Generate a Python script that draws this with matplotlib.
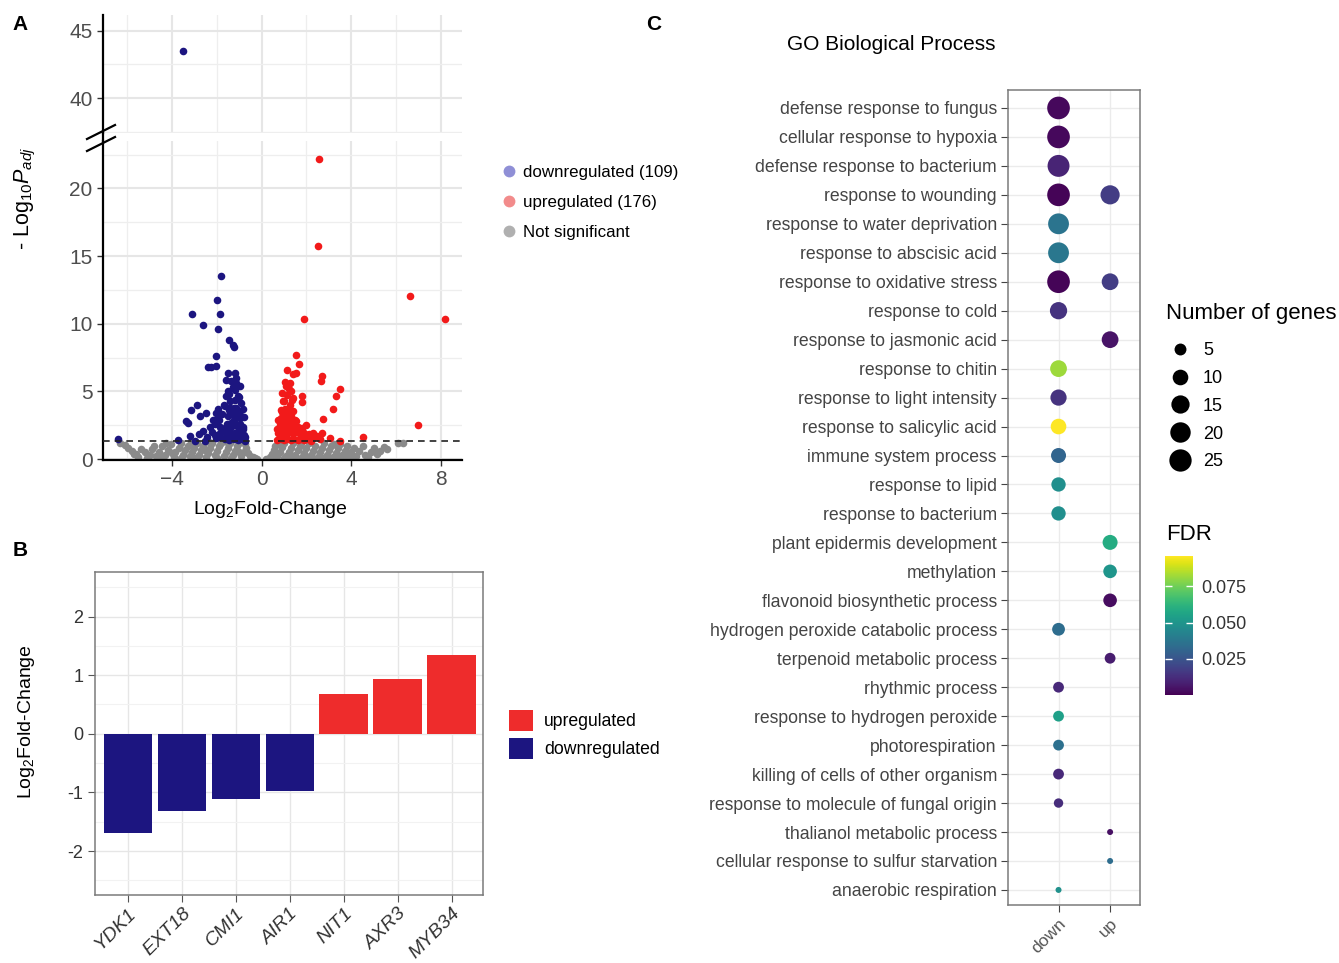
import numpy as np
import matplotlib
matplotlib.use("Agg")
import matplotlib.pyplot as plt
from matplotlib.lines import Line2D
from matplotlib.patches import Patch
from matplotlib.colors import Normalize

plt.rcParams['font.family'] = ['Liberation Sans', 'DejaVu Sans']
plt.rcParams['mathtext.fontset'] = 'custom'
plt.rcParams['mathtext.rm'] = 'Liberation Sans'
plt.rcParams['mathtext.it'] = 'Liberation Sans:italic'

# ---------------- Panel A data (volcano) ----------------
down_x = [-3.52, -1.80, -2.00, -3.09, -1.87, -2.62, -1.93, -1.46, -1.28, -1.24, -2.05, -2.39, -2.25, -2.02,
          -1.50, -1.20, -1.57, -1.35, -1.13, -0.98, -1.50, -1.20, -1.05, -0.91, -1.61, -1.65, -1.43, -1.13,
          -0.83, -2.88, -3.14, -2.47, -2.73, -2.03, -1.95, -2.17, -3.39, -3.29, -2.32, -1.88, -1.58, -1.35,
          -1.05, -0.83, -3.21, -2.80, -2.10, -1.85, -1.60, -1.35, -1.10, -0.90, -0.75, -3.73, -2.99, -2.54,
          -6.41, -1.65, -1.45, -1.25, -1.05, -0.85, -0.75, -1.60, -1.40, -1.20, -1.00, -0.80, -1.55, -1.35,
          -1.15, -0.95, -0.85, -1.50, -1.30, -1.10, -0.90, -1.45, -1.25, -1.05, -1.70, -1.85, -2.05, -2.20,
          -2.10, -1.90, -1.75, -1.40, -1.20, -1.00, -1.30, -1.15, -1.45, -2.45, -2.60, -1.95, -1.70, -0.95,
          -1.25, -0.80, -1.00, -1.40]
down_y = [43.5, 13.5, 11.75, 10.7, 10.7, 9.9, 9.6, 8.77, 8.4, 8.3, 7.6, 6.8, 6.8, 6.85,
          6.37, 6.37, 5.87, 5.75, 5.63, 5.4, 5.0, 5.13, 4.63, 4.14, 4.63, 3.89, 3.77, 3.77,
          3.7, 4.0, 3.64, 3.4, 3.15, 3.4, 3.0, 2.9, 2.78, 2.65, 2.4, 2.4, 2.4, 2.4,
          2.4, 2.4, 1.73, 1.86, 1.78, 1.9, 1.95, 1.85, 1.8, 1.75, 1.6, 1.41, 1.35, 1.35,
          1.5, 1.45, 1.4, 1.45, 1.4, 1.45, 1.35, 1.9, 2.0, 1.9, 2.0, 1.8, 2.6, 2.7,
          2.5, 2.6, 2.2, 3.2, 3.3, 3.1, 3.2, 3.6, 3.8, 3.5, 2.2, 1.6, 1.55, 2.0,
          2.6, 2.9, 3.3, 4.3, 4.4, 4.6, 5.3, 6.0, 4.8, 1.6, 2.1, 3.7, 4.0, 3.0,
          2.9, 3.1, 1.5, 1.55]

up_x = [2.54, 2.50, 1.87, 6.60, 8.16, 1.55, 1.65, 1.13, 1.40, 1.55, 2.69, 2.63, 1.03, 1.25, 1.10, 1.32,
        3.48, 3.33, 1.81, 1.81, 0.95, 1.25, 1.40, 3.18, 0.88, 1.17, 1.40, 2.74, 2.68, 2.21, 2.29, 3.06,
        3.51, 4.52, 6.99, 0.70, 0.85, 1.00, 1.15, 1.30, 1.45, 1.60, 1.75, 1.90, 2.05, 0.75, 0.90, 1.05,
        1.20, 1.35, 1.50, 1.70, 1.90, 2.10, 2.30, 2.45, 0.80, 0.95, 1.10, 1.25, 1.40, 1.60, 0.85, 1.00,
        1.15, 1.30, 1.50, 0.90, 1.05, 1.20, 1.00, 1.15, 0.90, 1.20, 1.35, 2.20, 2.60, 1.80, 2.00, 0.70,
        0.80, 1.10, 1.30, 1.00, 0.75, 1.25, 1.55, 1.95]
up_y = [22.2, 15.76, 10.33, 12.04, 10.33, 7.68, 7.0, 6.6, 6.25, 6.37, 6.12, 5.75, 5.67, 5.62, 5.38, 5.0,
        5.2, 4.63, 4.63, 4.19, 4.26, 4.0, 4.5, 3.69, 3.64, 3.4, 3.52, 2.95, 1.96, 1.78, 1.54, 1.54,
        1.36, 1.66, 2.53, 1.4, 1.5, 1.4, 1.45, 1.4, 1.5, 1.4, 1.45, 1.4, 1.5, 1.9, 2.0, 1.85,
        2.05, 1.9, 2.0, 1.85, 1.95, 1.85, 1.9, 1.7, 2.5, 2.6, 2.45, 2.7, 2.5, 2.4, 3.0, 3.1,
        2.95, 3.2, 2.9, 3.5, 3.7, 3.4, 4.3, 4.7, 4.9, 5.2, 4.4, 1.3, 1.45, 2.3, 2.5, 2.2,
        1.6, 1.7, 2.2, 2.25, 2.9, 3.6, 2.8, 1.6]

ns_x = [-6.30, -6.10, -5.95, -5.80, -5.70, -5.50, -5.20, -5.00, -4.90, -4.70, -4.60, -4.45, -4.30, -4.20,
        -4.05, -3.90, -3.85, -3.70, -3.60, -3.50, -3.40, -3.30, -3.20, -3.10, -3.00, -2.90, -2.80, -2.70,
        -2.60, -2.50, -2.40, -2.30, -2.20, -2.10, -2.00, -1.90, -1.80, -1.70, -1.60, -1.50, -1.40, -1.30,
        -1.20, -1.10, -1.00, -0.90, -0.80, -0.70, -0.60, -0.50, -0.40, -0.30, -0.20, -5.40, -4.80, -4.00,
        -3.60, -3.00, -2.55, -2.00, -1.35, -1.00, -0.75, -1.55, -2.35, -3.15, -4.50, -5.10, -5.60, -4.25,
        0.20, 0.35, 0.45, 0.55, 0.60, 0.70, 0.80, 0.90, 1.00, 1.10, 1.20, 1.30, 1.40, 1.50,
        1.60, 1.70, 1.80, 1.90, 2.00, 2.10, 2.20, 2.30, 2.40, 2.50, 2.60, 2.70, 2.80, 2.90,
        3.00, 3.10, 3.20, 3.30, 3.40, 3.50, 3.60, 3.70, 3.80, 3.90, 4.00, 4.10, 4.20, 4.35,
        4.50, 4.60, 4.75, 4.90, 5.00, 5.15, 5.30, 5.45, 5.60, 6.10, 6.30, 0.50, 1.00, 1.50,
        2.00, 2.50, 3.00, 3.50, 4.00, 0.75, 1.25, 1.75, 2.25, 2.75, 3.25, 3.75]
ns_y = [1.20, 1.05, 0.85, 0.60, 0.35, 0.15, 0.50, 0.30, 0.75, 0.20, 0.55, 0.95, 0.30, 0.70,
        1.10, 0.15, 0.50, 0.85, 1.20, 0.30, 0.65, 1.00, 0.20, 0.50, 0.85, 1.15, 0.30, 0.65,
        1.00, 0.15, 0.45, 0.80, 1.20, 0.30, 0.60, 0.95, 1.20, 0.20, 0.50, 0.85, 1.15, 0.30,
        0.60, 0.95, 1.20, 0.20, 0.50, 0.80, 0.45, 0.25, 0.15, 0.05, 0.02, 0.75, 1.00, 0.45,
        0.05, 0.10, 0.70, 0.05, 0.05, 0.55, 1.10, 1.25, 1.25, 1.25, 0.05, 0.05, 0.40, 1.20,
        0.03, 0.15, 0.40, 0.70, 1.00, 0.25, 0.55, 0.90, 1.20, 0.20, 0.50, 0.85, 1.15, 0.30,
        0.65, 1.00, 0.15, 0.45, 0.80, 1.20, 0.30, 0.60, 0.95, 0.15, 0.50, 0.85, 1.15, 0.30,
        0.65, 1.00, 0.15, 0.45, 0.80, 1.10, 0.30, 0.60, 0.95, 0.20, 0.50, 0.85, 0.25, 0.60,
        0.95, 0.30, 0.15, 0.50, 0.80, 0.35, 0.60, 0.90, 0.75, 1.20, 1.15, 0.05, 0.05, 0.05,
        0.05, 0.05, 0.05, 0.05, 0.05, 1.10, 0.10, 1.15, 0.10, 0.05, 1.10, 0.10]

padj_threshold = 1.3
legend_a_labels = ["downregulated (109)", "upregulated (176)", "Not significant"]

# ---------------- Panel B data ----------------
genes_b = ["YDK1", "EXT18", "CMI1", "AIR1", "NIT1", "AXR3", "MYB34"]
lfc_b = [-1.70, -1.32, -1.11, -0.98, 0.68, 0.94, 1.34]

# ---------------- Panel C data ----------------
terms = ["defense response to fungus", "cellular response to hypoxia", "defense response to bacterium",
         "response to wounding", "response to water deprivation", "response to abscisic acid",
         "response to oxidative stress", "response to cold", "response to jasmonic acid",
         "response to chitin", "response to light intensity", "response to salicylic acid",
         "immune system process", "response to lipid", "response to bacterium",
         "plant epidermis development", "methylation", "flavonoid biosynthetic process",
         "hydrogen peroxide catabolic process", "terpenoid metabolic process", "rhythmic process",
         "response to hydrogen peroxide", "photorespiration", "killing of cells of other organism",
         "response to molecule of fungal origin", "thalianol metabolic process",
         "cellular response to sulfur starvation", "anaerobic respiration"]
nan = np.nan
down_genes = [26, 26, 24, 26, 21, 21, 26, 13, nan, 12, 11, 10, 9, 8, 8, nan, nan, nan, 6, nan,
              4, 4, 4, 4, 3, nan, nan, 2]
down_fdr = [0.002, 0.002, 0.0095, 0.001, 0.037, 0.038, 0.001, 0.014, nan, 0.082, 0.014, 0.096,
            0.031, 0.0475, 0.0475, nan, nan, nan, 0.034, nan, 0.011, 0.054, 0.035, 0.011, 0.012,
            nan, nan, 0.048]
up_genes = [nan, nan, nan, 17, nan, nan, 12, nan, 12, nan, nan, nan, nan, nan, nan, 9, 7, 7, nan, 4,
            nan, nan, nan, nan, nan, 2, 2, nan]
up_fdr = [nan, nan, nan, 0.017, nan, nan, 0.017, nan, 0.005, nan, nan, nan, nan, nan, nan, 0.059,
          0.05, 0.003, nan, 0.0075, nan, nan, nan, nan, nan, 0.004, 0.034, nan]
directions = ["down", "up"]
size_legend_vals = [5, 10, 15, 20, 25]
fdr_ticks = [0.025, 0.050, 0.075]

# ---------------- figure ----------------
W, H = 1339, 963
fig = plt.figure(figsize=(W / 100, H / 100), dpi=100)


def rect(l, t, r, b):
    return [l / W, 1 - b / H, (r - l) / W, (b - t) / H]


NAVY = '#1c1580'
RED = '#f21a1a'
GREY = '#8a8a8a'
TICKC = '#4d4d4d'

# ---- Panel A ----
axT = fig.add_axes(rect(103, 15, 462, 133))
axB = fig.add_axes(rect(103, 141, 462, 460))
dx = np.array(down_x); dy = np.array(down_y)
ux = np.array(up_x); uy = np.array(up_y)
for ax in (axT, axB):
    ax.set_xlim(-7.08, 8.94)
    ax.set_xticks([-4, 0, 4, 8])
    ax.set_xticks([-6, -2, 2, 6], minor=True)
    ax.grid(True, which='major', color='#e6e6e6', lw=1.5)
    ax.grid(True, which='minor', color='#eeeeee', lw=0.9)
    ax.set_axisbelow(True)
    for s in ('top', 'right'):
        ax.spines[s].set_visible(False)
    ax.spines['left'].set_linewidth(1.6)
    ax.tick_params(axis='both', which='major', direction='out', length=4, width=1.0,
                   labelsize=15, labelcolor=TICKC, color='#333333')
    ax.tick_params(which='minor', length=0)
    ax.scatter(ns_x, ns_y, s=30, color=GREY, lw=0, zorder=2)
    ax.scatter(ux[uy < 30], uy[uy < 30], s=30, color=RED, lw=0, zorder=3)
    ax.scatter(dx[dy < 30], dy[dy < 30], s=30, color=NAVY, lw=0, zorder=3)
axT.scatter(dx[dy > 30], dy[dy > 30], s=30, color=NAVY, lw=0, zorder=3)
axT.set_ylim(37.39, 46.19)
axT.set_yticks([40, 45])
axT.set_yticks([37.5, 42.5], minor=True)
axT.spines['bottom'].set_visible(False)
axT.tick_params(axis='x', which='both', bottom=False, labelbottom=False)
axB.set_ylim(-0.07, 23.5)
axB.set_yticks([0, 5, 10, 15, 20])
axB.set_yticks([2.5, 7.5, 12.5, 17.5, 22.5], minor=True)
axB.spines['bottom'].set_linewidth(1.6)
axB.axhline(padj_threshold, color='#222222', lw=1.2, ls=(0, (4, 3)), zorder=4)

# break marks
for (x0, y0, x1, y1) in [(87, 139, 115, 125), (87, 151, 115, 137)]:
    fig.add_artist(Line2D([x0 / W, x1 / W], [1 - y0 / H, 1 - y1 / H], color='black', lw=1.6))
fig.add_artist(Line2D([103 / W, 103 / W], [1 - 141 / H, 1 - 133 / H], color='black', lw=1.6))

fig.text(25 / W, 1 - 198 / H, r"- Log$_{10}$$\it{P}_{\it{adj}}$", rotation=90, ha='center', va='center',
         fontsize=15.5)
fig.text(270 / W, 1 - 509 / H, r"Log$_{2}$Fold-Change", ha='center', va='center', fontsize=14)

leg_a = [Line2D([], [], marker='o', ls='', markersize=8.5, markerfacecolor=c, markeredgecolor='none')
         for c in ('#8f8fd6', '#f28b8b', '#b0b0b0')]
fig.legend(leg_a, legend_a_labels, loc='upper left', bbox_to_anchor=(501 / W, 1 - 165 / H),
           frameon=False, fontsize=12.2, handlelength=1.0, handletextpad=0.3, labelspacing=0.89,
           borderpad=0, borderaxespad=0)

# ---- Panel B ----
axb = fig.add_axes(rect(95, 572, 483, 895))
xb = np.arange(1, len(genes_b) + 1)
colors_b = ['#ee2c2c' if v > 0 else '#1c1580' for v in lfc_b]
axb.bar(xb, lfc_b, width=0.9, color=colors_b, zorder=3)
axb.set_xlim(0.39, 7.58)
axb.set_ylim(-2.75, 2.76)
axb.set_yticks([-2, -1, 0, 1, 2])
axb.set_yticklabels(['-2', '-1', '0', '1', '2'])
axb.set_yticks([-2.5, -1.5, -0.5, 0.5, 1.5, 2.5], minor=True)
axb.set_xticks(xb)
axb.grid(True, which='major', color='#e6e6e6', lw=1.0)
axb.grid(True, which='minor', axis='y', color='#f2f2f2', lw=0.8)
axb.set_axisbelow(True)
for s in axb.spines.values():
    s.set_color('#7a7a7a')
    s.set_linewidth(1.1)
axb.tick_params(which='major', direction='out', length=5, color='#555555')
axb.tick_params(axis='y', which='major', labelsize=13, labelcolor='#333333')
axb.tick_params(axis='x', which='major', pad=2)
axb.tick_params(which='minor', length=0)
axb.set_xticklabels(genes_b, rotation=45, ha='right', rotation_mode='anchor', fontstyle='italic',
                    fontsize=14, color='#333333')
fig.text(27 / W, 1 - 722 / H, r"Log$_{2}$Fold-Change", rotation=90, ha='center', va='center', fontsize=14)
leg_b = [Patch(facecolor='#ee2c2c', edgecolor='none'), Patch(facecolor='#1c1580', edgecolor='none')]
fig.legend(leg_b, ['upregulated', 'downregulated'], loc='upper left', bbox_to_anchor=(509 / W, 1 - 710 / H),
           frameon=False, fontsize=12.7, handlelength=1.36, handleheight=1.45, handletextpad=0.62,
           labelspacing=0.4, borderpad=0, borderaxespad=0)

# ---- Panel C ----
axc = fig.add_axes(rect(1008, 90, 1140, 905))
yc = np.arange(len(terms))
norm = Normalize(vmin=0.0, vmax=0.096)


def gene_size(n):
    d_px = 6 + 17 * np.sqrt((np.asarray(n, dtype=float) - 2) / 25.0)
    return (d_px * 0.72) ** 2


dg = np.array(down_genes, dtype=float); df = np.array(down_fdr, dtype=float)
ug = np.array(up_genes, dtype=float); uf = np.array(up_fdr, dtype=float)
md = ~np.isnan(dg); mu = ~np.isnan(ug)
sc = axc.scatter(np.full(md.sum(), 1.0), yc[md], s=gene_size(dg[md]), c=df[md], cmap='viridis',
                 norm=norm, lw=0, zorder=3)
axc.scatter(np.full(mu.sum(), 2.0), yc[mu], s=gene_size(ug[mu]), c=uf[mu], cmap='viridis',
            norm=norm, lw=0, zorder=3)
axc.set_xlim(0.02, 2.58)
axc.set_ylim(len(terms) - 1 + 0.52, -0.62)
axc.set_yticks(yc)
axc.set_yticklabels(terms, fontsize=12.7, color='#444444')
axc.set_xticks([1, 2])
axc.set_xticklabels(directions, rotation=45, ha='right', rotation_mode='anchor', fontsize=12.5,
                    color='#555555')
axc.grid(True, color='#ebebeb', lw=1.0)
axc.set_axisbelow(True)
for s in axc.spines.values():
    s.set_color('#7a7a7a')
    s.set_linewidth(1.1)
axc.tick_params(direction='out', length=5, color='#444444', pad=3)

fig.text(891 / W, 1 - 44 / H, "GO Biological Process", ha='center', va='center', fontsize=15)

# size legend
fig.text(1166 / W, 1 - 314 / H, "Number of genes", ha='left', va='center', fontsize=16)
leg_c = [Line2D([], [], marker='o', ls='', markersize=np.sqrt(gene_size(v)), markerfacecolor='black',
                markeredgecolor='none') for v in size_legend_vals]
fig.legend(leg_c, [str(v) for v in size_legend_vals], loc='upper left', bbox_to_anchor=(1166 / W, 1 - 342 / H),
           frameon=False, fontsize=13, handlelength=1.5, handletextpad=0.55, labelspacing=0.6,
           borderpad=0, borderaxespad=0)

# colour bar
fig.text(1166 / W, 1 - 534 / H, "FDR", ha='left', va='center', fontsize=16)
cax = fig.add_axes(rect(1165, 556, 1193, 695))
cb = fig.colorbar(sc, cax=cax, ticks=fdr_ticks)
cb.outline.set_visible(False)
cb.ax.set_yticklabels([f"{t:.3f}" for t in fdr_ticks])
cb.ax.tick_params(direction='in', length=5, width=1, color='white', labelsize=13, labelcolor='#333333',
                  left=True, right=True, pad=6)

# panel letters
fig.text(20 / W, 1 - 25 / H, "A", fontsize=15, fontweight='bold', ha='center', va='center')
fig.text(20 / W, 1 - 551 / H, "B", fontsize=15, fontweight='bold', ha='center', va='center')
fig.text(654 / W, 1 - 24 / H, "C", fontsize=15, fontweight='bold', ha='center', va='center')

fig.savefig("out.png", dpi=100, facecolor='white')
